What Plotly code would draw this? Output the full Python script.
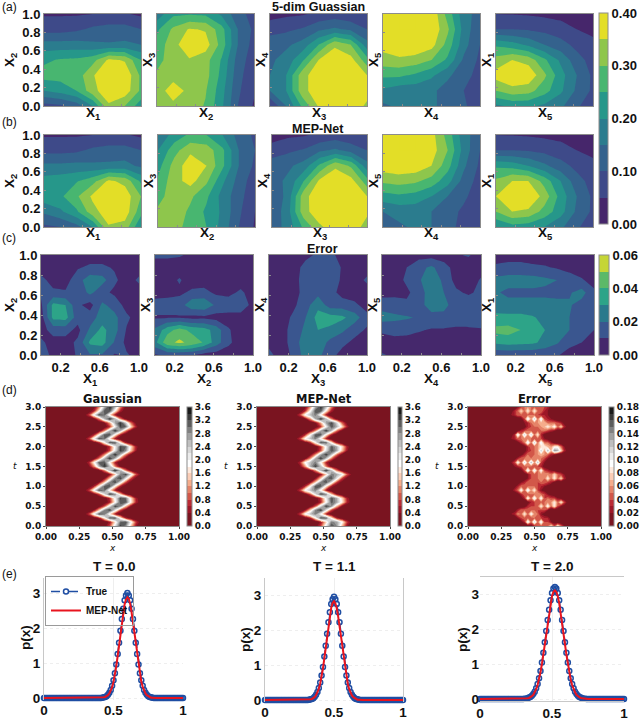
import numpy as np
import plotly.graph_objects as go

G7 = [0, 1/6, 1/3, 1/2, 2/3, 5/6, 1]
Y7 = [1, 5/6, 2/3, 1/2, 1/3, 1/6, 0]
G9 = [0, .125, .25, .375, .5, .625, .75, .875, 1]
Y9 = [1, .875, .75, .625, .5, .375, .25, .125, 0]

A1 = [[.045,.045,.045,.05,.055,.055,.04],[.08,.08,.09,.11,.12,.12,.10],[.17,.17,.17,.16,.155,.16,.15],[.24,.255,.26,.28,.36,.345,.25],[.27,.27,.27,.345,.39,.39,.29],[.20,.22,.25,.33,.39,.38,.29],[.08,.09,.12,.20,.34,.30,.22]]
A2 = [[.17,.24,.245,.24,.19,.12,.08],[.24,.31,.355,.345,.27,.15,.09],[.27,.33,.39,.375,.28,.15,.08],[.28,.33,.345,.32,.245,.13,.07],[.31,.335,.335,.32,.235,.12,.06],[.33,.37,.34,.305,.22,.11,.055],[.31,.34,.33,.295,.21,.10,.045]]
A3 = [[.03,.04,.045,.06,.07,.06,.05],[.08,.09,.105,.14,.16,.14,.10],[.13,.14,.17,.25,.34,.30,.17],[.14,.17,.24,.35,.39,.37,.27],[.15,.20,.33,.385,.40,.385,.35],[.15,.20,.33,.385,.40,.39,.37],[.05,.15,.26,.355,.39,.385,.34]]
A4 = [[.395,.40,.40,.39,.28,.17,.13],[.39,.40,.40,.39,.31,.18,.11],[.37,.39,.39,.37,.28,.17,.10],[.33,.34,.33,.30,.24,.14,.09],[.26,.26,.24,.21,.16,.12,.08],[.19,.17,.17,.16,.13,.10,.07],[.14,.16,.165,.16,.13,.105,.08]]
A5 = [[.05,.048,.045,.04,.035,.03,.025],[.10,.10,.095,.085,.07,.05,.04],[.24,.22,.19,.15,.12,.085,.06],[.32,.35,.33,.26,.19,.12,.08],[.37,.40,.39,.31,.22,.15,.09],[.30,.33,.32,.27,.21,.14,.09],[.19,.21,.21,.19,.16,.11,.06]]
B1 = [[.045,.045,.045,.05,.055,.055,.04],[.085,.085,.09,.11,.12,.12,.10],[.16,.16,.165,.16,.16,.165,.14],[.22,.23,.245,.28,.36,.335,.24],[.23,.24,.29,.36,.39,.38,.30],[.16,.19,.24,.33,.38,.38,.27],[.09,.10,.13,.20,.345,.33,.20]]
B2 = [[.16,.22,.26,.25,.20,.13,.09],[.20,.28,.34,.33,.26,.15,.10],[.23,.32,.38,.35,.26,.15,.09],[.26,.33,.37,.31,.21,.13,.07],[.28,.33,.31,.26,.18,.12,.06],[.31,.33,.29,.24,.19,.11,.05],[.31,.32,.28,.25,.18,.10,.045]]
B3 = [[.03,.04,.045,.06,.07,.06,.05],[.07,.09,.105,.14,.16,.13,.10],[.13,.14,.17,.26,.34,.29,.17],[.13,.16,.25,.36,.39,.37,.27],[.10,.17,.33,.39,.40,.385,.35],[.11,.18,.33,.385,.40,.39,.36],[.12,.17,.26,.34,.38,.38,.33]]
B4 = [[.395,.40,.40,.37,.28,.17,.12],[.39,.40,.40,.375,.30,.18,.10],[.38,.39,.385,.35,.27,.16,.09],[.31,.32,.31,.28,.22,.13,.08],[.23,.24,.23,.20,.15,.11,.07],[.15,.17,.17,.15,.12,.09,.06],[.10,.14,.16,.15,.12,.08,.05]]
B5 = [[.05,.048,.045,.04,.035,.03,.025],[.10,.10,.095,.085,.07,.05,.04],[.24,.23,.20,.16,.12,.085,.06],[.31,.35,.35,.28,.20,.12,.08],[.35,.39,.40,.33,.23,.15,.09],[.30,.35,.34,.28,.22,.14,.09],[.20,.23,.22,.20,.16,.11,.06]]

C1 = [[.005]*9,[.005,.005,.005,.009,.012,.012,.009,.005,.005],[.013,.006,.006,.016,.026,.024,.012,.005,.012],[.012,.012,.011,.012,.023,.013,.008,.005,.005],[.008,.033,.03,.012,.006,.022,.016,.006,.005],[.005,.033,.034,.014,.015,.025,.023,.012,.005],[.006,.014,.014,.007,.022,.033,.024,.009,.005],[.012,.006,.006,.012,.032,.034,.019,.007,.005],[.016,.007,.006,.011,.019,.019,.009,.011,.006]]
C2 = [[.012,.012,.011,.008,.005,.005,.005,.005,.005],[.005]*9,[.005,.006,.011,.005,.005,.005,.005,.005,.005],[.006,.007,.008,.012,.013,.008,.007,.012,.005],[.014,.014,.015,.027,.028,.018,.016,.016,.007],[.009,.009,.009,.007,.008,.006,.006,.006,.005],[.022,.036,.044,.037,.034,.026,.011,.005,.005],[.027,.047,.052,.047,.039,.025,.012,.005,.005],[.009,.012,.012,.011,.006,.005,.005,.005,.005]]
C3 = [[.005,.005,.005,.007,.012,.012,.007,.005,.005],[.005,.005,.005,.014,.016,.016,.009,.005,.005],[.005,.005,.006,.015,.018,.017,.008,.005,.012],[.005,.005,.006,.014,.017,.014,.006,.005,.005],[.005,.005,.008,.016,.027,.015,.015,.012,.006],[.005,.005,.012,.02,.034,.034,.032,.025,.013],[.005,.005,.015,.022,.03,.028,.022,.013,.009],[.007,.005,.015,.026,.027,.017,.012,.008,.005],[.013,.005,.012,.025,.023,.013,.007,.005,.005]]
C4 = [[.005,.005,.005,.006,.006,.005,.009,.011,.005],[.005,.005,.01,.017,.022,.014,.006,.005,.006],[.005,.005,.012,.019,.026,.018,.006,.005,.011],[.006,.007,.008,.015,.026,.02,.012,.008,.013],[.016,.015,.012,.017,.024,.023,.015,.018,.018],[.024,.022,.021,.019,.017,.017,.016,.017,.016],[.012,.015,.014,.011,.009,.009,.008,.008,.009],[.005]*9,[.011,.008,.005,.005,.005,.005,.005,.005,.005]]
C5 = [[.005]*9,[.012,.014,.014,.012,.011,.009,.006,.005,.005],[.023,.024,.024,.024,.022,.02,.016,.011,.006],[.021,.018,.018,.018,.018,.018,.019,.024,.012],[.024,.023,.023,.023,.023,.022,.021,.016,.012],[.033,.033,.033,.031,.027,.022,.02,.014,.011],[.043,.044,.04,.034,.03,.024,.02,.014,.01],[.032,.034,.033,.032,.027,.021,.013,.01,.006],[.012,.012,.012,.012,.012,.011,.006,.005,.005]]

D_T = [round(.1*i, 1) for i in range(31)]
D_X = [0, .24, .28, .32, .36, .40, .44, .48, .52, .56, .60, .64, .68, .72, .76, 1]
GAUSS = [
[0,0,0,.02,.18,.83,2.18,3.28,2.86,1.45,.41,.06],
[0,0,0,.01,.08,.5,1.63,3.0,3.23,2.0,.7,.14],
[0,.01,.1,.57,1.8,3.17,3.17,1.8,.57,.1,.01,0],
[.14,.7,2.0,3.23,3.0,1.63,.5,.08,.01,0,0,0],
[.01,.06,.41,1.45,2.86,3.28,2.18,.83,.18,.02,0,0],
[0,0,.02,.18,.83,2.18,3.28,2.86,1.45,.41,.06,.01],
[0,0,0,.01,.1,.57,1.8,3.17,3.17,1.8,.57,.1],
[0,0,0,.02,.14,.7,2.0,3.23,3.0,1.63,.5,.08],
[0,.02,.18,.83,2.18,3.28,2.86,1.45,.41,.06,.01,0],
[.14,.7,2.0,3.23,3.0,1.63,.5,.08,.01,0,0,0],
[.01,.1,.57,1.8,3.17,3.17,1.8,.57,.1,.01,0,0],
[0,.01,.06,.41,1.45,2.86,3.28,2.18,.83,.18,.02,0],
[0,0,.01,.06,.41,1.45,2.86,3.28,2.18,.83,.18,.02],
[0,0,0,.01,.06,.41,1.45,2.86,3.28,2.18,.83,.18],
[0,0,.03,.26,1.09,2.55,3.4,2.55,1.09,.26,.03,0],
[.03,.26,1.09,2.55,3.4,2.55,1.09,.26,.03,0,0,0],
[.1,.57,1.8,3.17,3.17,1.8,.57,.1,.01,0,0,0],
[0,.03,.26,1.09,2.55,3.4,2.55,1.09,.26,.03,0,0],
[0,0,.03,.26,1.09,2.55,3.4,2.55,1.09,.26,.03,0],
[0,0,0,.02,.18,.83,2.18,3.28,2.86,1.45,.41,.06],
[0,0,0,.02,.14,.7,2.0,3.23,3.0,1.63,.5,.08],
[0,.01,.1,.57,1.8,3.17,3.17,1.8,.57,.1,.01,0],
[.14,.7,2.0,3.23,3.0,1.63,.5,.08,.01,0,0,0],
[.01,.1,.57,1.8,3.17,3.17,1.8,.57,.1,.01,0,0],
[0,0,.03,.26,1.09,2.55,3.4,2.55,1.09,.26,.03,0],
[0,0,0,.02,.14,.7,2.0,3.23,3.0,1.63,.5,.08],
[0,0,.01,.05,.34,1.27,2.7,3.34,2.37,.96,.22,.02],
[0,.03,.26,1.09,2.55,3.4,2.55,1.09,.26,.03,0,0],
[.14,.7,2.0,3.23,3.0,1.63,.5,.08,.01,0,0,0],
[.01,.1,.57,1.8,3.17,3.17,1.8,.57,.1,.01,0,0],
[0,.03,.26,1.09,2.55,3.4,2.55,1.09,.26,.03,0,0],
]
MEP = [
[0,0,0,.02,.17,.8,2.1,3.2,2.8,1.4,.4,.05],
[0,0,0,.01,.08,.48,1.55,2.9,2.7,1.9,.7,.15],
[0,.01,.12,.6,1.85,3.2,3.1,1.75,.55,.1,.01,0],
[.14,.7,1.9,2.5,2.9,1.9,.6,.1,.01,0,0,0],
[.01,.07,.43,1.5,2.9,3.3,2.15,.8,.17,.02,0,0],
[0,0,.02,.18,.85,2.25,3.3,2.8,1.4,.4,.06,.01],
[0,0,0,.01,.1,.6,1.85,3.1,2.7,1.75,.6,.12],
[0,0,0,.02,.14,.75,2.05,3.2,2.6,1.6,.52,.09],
[0,.02,.18,.85,2.2,3.25,2.85,1.45,.41,.06,.01,0],
[.14,.7,1.9,2.5,2.9,1.8,.55,.09,.01,0,0,0],
[.01,.1,.6,1.85,3.2,3.15,1.75,.55,.1,.01,0,0],
[0,.01,.06,.42,1.5,2.9,3.25,2.15,.8,.17,.02,0],
[0,0,.01,.06,.43,1.5,2.9,3.2,2.15,.8,.18,.02],
[0,0,0,.01,.06,.43,1.5,2.9,2.7,2.1,.85,.2],
[0,0,.03,.28,1.15,2.6,3.35,2.5,1.05,.25,.03,0],
[.03,.28,1.15,2.6,3.3,2.5,1.05,.25,.03,0,0,0],
[.1,.6,1.85,2.5,2.9,1.85,.6,.1,.01,0,0,0],
[0,.03,.28,1.15,2.6,3.35,2.5,1.05,.25,.03,0,0],
[0,0,.03,.28,1.15,2.6,3.35,2.5,1.05,.25,.03,0],
[0,0,0,.02,.18,.85,2.2,3.2,2.7,1.45,.42,.07],
[0,0,0,.02,.15,.72,2.0,3.15,2.6,1.65,.52,.09],
[0,.01,.11,.6,1.85,3.2,3.1,1.75,.55,.1,.01,0],
[.14,.7,1.9,2.5,2.9,1.8,.55,.09,.01,0,0,0],
[.01,.1,.6,1.85,3.2,3.15,1.75,.55,.1,.01,0,0],
[0,0,.03,.28,1.15,2.6,3.35,2.5,1.05,.25,.03,0],
[0,0,0,.02,.15,.72,2.0,3.15,2.6,1.65,.52,.09],
[0,0,.01,.05,.35,1.3,2.7,3.25,2.3,.95,.23,.03],
[0,.03,.28,1.15,2.6,3.35,2.5,1.05,.25,.03,0,0],
[.14,.7,1.9,2.5,2.9,1.8,.55,.09,.01,0,0,0],
[.01,.1,.6,1.85,3.2,3.15,1.75,.55,.1,.01,0,0],
[0,.03,.28,1.15,2.6,3.35,2.5,1.05,.25,.03,0,0],
]
E_X = [0, .275, .30, .325, .35, .375, .40, .425, .45, .475, .50, .525, .55, .575, .60, .625, .65, .675, .70, .725, .75, .775, 1]
ERR = [
[0,0,0,0,0,0,0,.01,.03,.04,.05,.05,.05,.08,.04,.09,.05,.02,0],
[0,0,0,0,.01,.03,.11,.05,.12,.05,.11,.04,.04,.02,.01,0,0,0,0],
[0,0,0,.02,.04,.05,.05,.04,.05,.05,.04,.03,.03,.01,0,0,0,0,0],
[.01,.02,.03,.06,.05,.09,.05,.10,.06,.05,.02,.01,0,0,0,0,0,0,0],
[0,0,.01,.03,.05,.05,.05,.05,.05,.04,.04,.04,.02,0,0,0,0,0,0],
[0,0,0,0,0,.01,.03,.04,.04,.05,.09,.05,.10,.05,.09,.04,.02,.01,0],
[0,0,0,0,0,0,.01,.03,.04,.05,.05,.05,.06,.06,.09,.05,.09,.04,.01],
[0,0,0,0,.01,.03,.10,.05,.11,.05,.10,.04,.05,.04,.04,.02,.01,0,0],
[0,0,0,.01,.03,.05,.04,.05,.05,.06,.05,.04,.02,.01,0,0,0,0,0],
[0,.01,.03,.05,.10,.05,.11,.06,.09,.04,.02,.01,0,0,0,0,0,0,0],
[0,0,.01,.03,.05,.05,.05,.05,.05,.04,.03,.02,.01,0,0,0,0,0,0],
[0,0,0,0,.02,.03,.05,.05,.05,.04,.05,.05,.04,.03,.01,0,0,0,0],
[0,0,0,0,0,.01,.02,.04,.05,.05,.06,.05,.09,.05,.09,.05,.08,.03,.01],
[0,0,0,0,0,.01,.02,.04,.05,.05,.06,.06,.06,.05,.08,.05,.04,.02,0],
[0,0,0,0,.01,.04,.11,.05,.11,.05,.10,.04,.03,.02,.01,0,0,0,0],
[0,.01,.02,.03,.04,.05,.05,.05,.04,.04,.03,.01,0,0,0,0,0,0,0],
[.01,.02,.04,.10,.05,.12,.06,.13,.06,.13,.04,.02,0,0,0,0,0,0,0],
[0,0,.01,.03,.05,.05,.06,.05,.06,.06,.05,.04,.02,.01,0,0,0,0,0],
[0,0,0,0,.01,.03,.05,.05,.05,.06,.07,.06,.05,.03,.02,0,0,0,0],
[0,0,0,0,0,.01,.03,.04,.05,.06,.12,.06,.13,.07,.14,.13,.08,.03,.01],
[0,0,0,0,0,.01,.03,.05,.05,.06,.08,.09,.07,.06,.09,.09,.05,.02,0],
[0,0,0,.01,.03,.05,.11,.05,.12,.05,.11,.05,.05,.03,.01,0,0,0,0],
[.01,.02,.03,.05,.05,.06,.06,.05,.05,.05,.04,.02,.01,0,0,0,0,0,0],
[0,.01,.03,.11,.05,.12,.06,.12,.05,.09,.03,.01,0,0,0,0,0,0,0],
[0,0,0,.01,.03,.04,.05,.05,.05,.05,.05,.05,.04,.03,.02,.01,0,0,0],
[0,0,0,0,0,.01,.03,.04,.05,.05,.06,.07,.09,.07,.10,.05,.08,.03,.01],
[0,0,0,0,0,.02,.03,.05,.06,.06,.07,.07,.05,.05,.05,.04,.03,.01,0],
[0,0,0,0,.01,.04,.11,.06,.12,.05,.11,.04,.03,.02,.01,0,0,0,0],
[.01,.02,.03,.05,.05,.05,.05,.05,.05,.04,.03,.03,.02,.01,0,0,0,0,0],
[0,.01,.03,.05,.08,.05,.09,.05,.09,.05,.05,.03,.02,0,0,0,0,0,0],
[0,0,0,.02,.04,.05,.06,.05,.05,.05,.05,.04,.03,.01,0,0,0,0,0],
]

P_X = [round(i/100, 2) for i in range(101)]
T0_TRUE = [0]*42 + [.01,.02,.03,.05,.09,.15,.23,.35,.51,.71,.96,1.26,1.58,1.92,2.26,2.55,2.79,2.93,3.0,2.93,2.79,2.55,2.26,1.92,1.58,1.26,.96,.71,.51,.35,.23,.15,.09,.05,.03,.02,.01] + [0]*22
T0_MEP = [0]*42 + [.01,.02,.03,.05,.08,.13,.2,.31,.46,.66,.91,1.2,1.52,1.85,2.18,2.46,2.68,2.82,2.88,2.83,2.69,2.45,2.16,1.82,1.5,1.19,.9,.66,.47,.32,.21,.13,.08,.05,.03,.01,.01] + [0]*22
T1_TRUE = [0]*32 + [.01,.02,.03,.05,.09,.15,.23,.34,.5,.7,.94,1.24,1.55,1.89,2.22,2.51,2.74,2.88,2.95,2.88,2.74,2.51,2.22,1.89,1.55,1.24,.94,.7,.5,.34,.23,.15,.09,.05,.03,.02,.01] + [0]*32
T1_MEP = [0]*32 + [.01,.02,.03,.05,.08,.14,.21,.32,.47,.66,.9,1.19,1.49,1.82,2.14,2.42,2.64,2.77,2.82,2.76,2.62,2.39,2.11,1.78,1.46,1.16,.88,.64,.46,.31,.2,.13,.08,.05,.03,.01,.01] + [0]*32
T2_TRUE = [0]*31 + [.01,.01,.02,.04,.06,.09,.14,.21,.31,.43,.59,.8,1.04,1.32,1.62,1.94,2.26,2.55,2.82,3.03,3.16,3.2,3.16,3.03,2.82,2.55,2.26,1.94,1.62,1.32,1.04,.8,.59,.43,.31,.21,.14,.09,.06,.04,.02,.01,.01] + [0]*27
T2_MEP = [0]*31 + [.01,.01,.02,.03,.05,.08,.12,.19,.28,.4,.55,.76,1.0,1.27,1.57,1.88,2.19,2.48,2.74,2.94,3.06,3.1,3.06,2.94,2.74,2.48,2.19,1.88,1.57,1.27,1.0,.76,.55,.4,.28,.19,.12,.08,.05,.03,.02,.01,.01] + [0]*27

VIR8 = ["#46266b", "#3e4a89", "#34628d", "#2b7c8e", "#26978a", "#48b670", "#8ec64c", "#e3de27"]
VIR6 = ["#45286c", "#3a568f", "#2a798c", "#2da488", "#5cb968", "#c5d536"]
RDGY = ["#7a1420", "#b2182b", "#d6604d", "#f4a582", "#fddbc7", "#ffffff", "#e0e0e0", "#bababa", "#878787", "#4d4d4d", "#1a1a1a"]
HELV = "Liberation Sans"
DJ = "DejaVu Sans"
AXC = "#8c8c8c"
W, H = 640, 720

def steps(cols):
    n = len(cols)
    out = []
    for i, c in enumerate(cols):
        out += [[i/n, c], [(i+1)/n, c]]
    return out

fig = go.Figure()
layout = {}
count = 0
annots = []

def px_note(x, y, text, size, family=HELV, bold=True, color="#111", angle=0):
    annots.append(dict(x=x/W, y=1-y/H, xref="paper", yref="paper", text=text,
                       showarrow=False, font=dict(size=size, family=family, color=color, weight="bold" if bold else "normal"),
                       xanchor="center", yanchor="middle", textangle=angle))

def add_axes(l, r, t, b, xopts, yopts):
    global count
    count += 1
    s = "" if count == 1 else str(count)
    layout["xaxis"+s] = dict(domain=[l/W, r/W], anchor="y"+s, **xopts)
    layout["yaxis"+s] = dict(domain=[1-b/H, 1-t/H], anchor="x"+s, **yopts)
    return "x"+s, "y"+s

TV = [0, .2, .4, .6, .8, 1]
TT = ["0.0", "0.2", "0.4", "0.6", "0.8", "1.0"]
TICKF = dict(size=13, family=HELV, color="#111", weight="bold")
SUBS = [("X<sub>1</sub>", "X<sub>2</sub>"), ("X<sub>2</sub>", "X<sub>3</sub>"), ("X<sub>3</sub>", "X<sub>4</sub>"),
        ("X<sub>4</sub>", "X<sub>5</sub>"), ("X<sub>5</sub>", "X<sub>1</sub>")]

def contour_row(panels, grid, ygrid, boxes, top, bot, cols, zmax, step, cbar, xlab_y, labelled_x):
    for i, (z, box) in enumerate(zip(panels, boxes)):
        l, r = box
        if labelled_x:
            xo = dict(tickvals=TV, ticktext=["", "0.2", "", "0.6", "", "1.0"], tickfont=TICKF)
        else:
            xo = dict(tickvals=TV, showticklabels=False)
        yo = dict(tickvals=TV)
        if i == 0:
            yo.update(ticktext=TT, tickfont=TICKF)
        else:
            yo.update(showticklabels=False)
        common = dict(range=[0, 1], ticks="inside", ticklen=2, tickcolor=AXC, showgrid=False, zeroline=False,
                      showline=True, linecolor=AXC, linewidth=1, mirror=True)
        xa, ya = add_axes(l, r, top, bot, {**xo, **common}, {**yo, **common})
        fig.add_trace(go.Contour(x=grid, y=ygrid, z=z, xaxis=xa, yaxis=ya, zmin=0, zmax=zmax,
                                 contours=dict(start=0, end=zmax, size=step, coloring="fill", showlines=False),
                                 line=dict(width=0, smoothing=0), colorscale=steps(cols), showscale=(cbar is not None and i == 0),
                                 colorbar=cbar, hoverinfo="skip"))
        sx, sy = SUBS[i]
        px_note((l+r)/2, xlab_y, sx, 13.5)
        px_note(10 if i == 0 else l-9, (top+bot)/2, sy, 13.5, angle=-90)

def cbar_px(l, r, t, b, vals, texts, size, family):
    return dict(x=l/W, xanchor="left", xpad=0, y=1-t/H, yanchor="top", ypad=0, len=(b-t)/H, lenmode="fraction",
                thickness=r-l, thicknessmode="pixels", tickvals=vals, ticktext=texts,
                tickfont=dict(size=size, family=family, color="#111", weight="bold"), outlinecolor=AXC, outlinewidth=1,
                ticks="", ticklen=0)

X_A = [(44, 141), (157, 254), (270, 367), (383, 480), (496, 593)]
X_B = [(44, 141), (158, 255), (272, 367), (383, 480), (496, 593)]
X_C = [(41, 139), (155, 253), (269, 367), (382, 481), (496, 594)]

CB1 = cbar_px(599, 608, 13, 224, [0, .1, .2, .3, .4], ["0.00", "0.10", "0.20", "0.30", "0.40"], 13, HELV)
CB2 = cbar_px(599, 609, 255, 355, [0, .02, .04, .06], ["0.00", "0.02", "0.04", "0.06"], 13, HELV)

contour_row([A1, A2, A3, A4, A5], G7, Y7, X_A, 14, 106, VIR8, .4, .05, CB1, 113, False)
contour_row([B1, B2, B3, B4, B5], G7, Y7, X_B, 135, 227, VIR8, .4, .05, None, 234, False)
contour_row([C1, C2, C3, C4, C5], G9, Y9, X_C, 255, 355, VIR6, .06, .01, CB2, 379, True)

px_note(318, 7, "5-dim Guassian", 12.5)
px_note(318, 129, "MEP-Net", 12.5)
px_note(322, 249, "Error", 12.5)

# row d
DTICK = dict(size=9, family=DJ, color="#111", weight="bold")
def heat(z, x, box, cb, zmax, start, step, name):
    l, r, cl, cr = box
    xa, ya = add_axes(l, r, 407, 526,
        dict(range=[0, 1], tickvals=[0, .25, .5, .75, 1], ticktext=["0.00", "0.25", "0.50", "0.75", "1.00"],
             tickfont=DTICK, ticks="outside", ticklen=2, tickcolor="#444", showgrid=False, zeroline=False,
             showline=True, linecolor=AXC, linewidth=1, mirror=True),
        dict(range=[0, 3], tickvals=[0, .5, 1, 1.5, 2, 2.5, 3], ticktext=["0.0", "0.5", "1.0", "1.5", "2.0", "2.5", "3.0"],
             tickfont=DTICK, ticks="outside", ticklen=2, tickcolor="#444", showgrid=False, zeroline=False,
             showline=True, linecolor=AXC, linewidth=1, mirror=True))
    fig.add_trace(go.Contour(x=x, y=D_T, z=z, xaxis=xa, yaxis=ya, zmin=0, zmax=zmax,
                             contours=dict(start=start, end=zmax-step, size=step, coloring="fill", showlines=False),
                             line=dict(width=0, smoothing=0), colorscale=[[i/10, c] for i, c in enumerate(RDGY)],
                             colorbar=cb, hoverinfo="skip"))
    px_note((l+r)/2, 399, name, 11.5, family=DJ)
    px_note((l+r)/2, 548, "<i>x</i>", 9, family=DJ, bold=False)
    px_note(l-31, 466, "<i>t</i>", 9, family=DJ, bold=False)

def pad2(m):
    return np.pad(np.array(m, dtype=float), ((0, 0), (2, 2))).tolist()

v1 = [round(.4*i, 1) for i in range(10)]
v2 = [round(.02*i, 2) for i in range(10)]
heat(pad2(GAUSS), D_X, (46, 179, 187, 192), cbar_px(187, 192, 407, 526, v1, [f"{v:.1f}" for v in v1], 9, DJ), 3.6, .4, .2, "Gaussian")
heat(pad2(MEP), D_X, (257, 390, 398, 402), cbar_px(398, 402, 407, 526, v1, [f"{v:.1f}" for v in v1], 9, DJ), 3.6, .4, .2, "MEP-Net")
heat(pad2(ERR), E_X, (468, 601, 609, 614), cbar_px(609, 614, 407, 526, v2, [f"{v:.2f}" for v in v2], 9, DJ), .18, .02, .01, "Error")

# row e
BLUE = "#1f4ea3"
RED = "#e8141e"
ETICK = dict(size=13.5, family=HELV, color="#111", weight="bold")
def line_panel(tv, mv, box, y0, y3, title, legend, spines):
    l, r, t, b = box
    unit = (y0-y3)/3
    rng = [(y0-b)/unit, (y0-t)/unit]
    xa, ya = add_axes(l, r, t, b,
        dict(range=[0, 1], tickvals=[0, .5, 1], ticktext=["0", "0.5", "1"], tickfont=ETICK,
             ticks="", showgrid=True, gridcolor="#eeeeee", gridwidth=1, zeroline=False,
             showline=spines.get("x", False), linecolor="#c8c8c8", linewidth=1, mirror=spines.get("xm", False)),
        dict(range=rng, tickvals=[0, 1, 2, 3], ticktext=["0", "1", "2", "3"], tickfont=ETICK,
             ticks="", showgrid=True, gridcolor="#eeeeee", gridwidth=1, griddash="dot", zeroline=False,
             showline=spines.get("y", False), linecolor=spines.get("yc", "#c8c8c8"), linewidth=1, mirror=spines.get("ym", False)))
    fig.add_trace(go.Scatter(x=P_X, y=tv, mode="lines+markers", name="True", xaxis=xa, yaxis=ya, cliponaxis=False,
                             line=dict(color=BLUE, width=1.5, dash="dash"),
                             marker=dict(symbol="circle-open", size=5, color=BLUE, line=dict(width=1.5, color=BLUE)),
                             showlegend=legend, hoverinfo="skip"))
    fig.add_trace(go.Scatter(x=P_X, y=mv, mode="lines", name="MEP-Net", xaxis=xa, yaxis=ya, cliponaxis=False,
                             line=dict(color=RED, width=2), showlegend=legend, hoverinfo="skip"))
    px_note((l+r)/2, 566, title, 13.5)

line_panel(T0_TRUE, T0_MEP, (44, 183, 578, 700), 698, 593, "T = 0.0", True, dict(y=True))
line_panel(T1_TRUE, T1_MEP, (265, 403, 578, 702), 700, 595, "T = 1.1", False, dict(y=True, ym=True))
line_panel(T2_TRUE, T2_MEP, (480, 624, 577, 701), 699, 594, "T = 2.0", False, dict(x=True, xm=True))
px_note(25, 638, "p(x)", 13.5, angle=-90)
px_note(245, 640, "p(x)", 13.5, angle=-90)
px_note(462, 640, "p(x)", 13.5, angle=-90)

for lab, y in [("(a)", 7), ("(b)", 122), ("(c)", 238), ("(d)", 390), ("(e)", 574)]:
    px_note(9, y, lab, 12, bold=False)

fig.update_layout(**layout)
fig.update_layout(width=W, height=H, margin=dict(l=0, r=0, t=0, b=0, autoexpand=False), paper_bgcolor="white", plot_bgcolor="white",
                  annotations=annots, font=dict(family=HELV, color="#111"),
                  legend=dict(x=45/W, y=1-576/H, xanchor="left", yanchor="top", bgcolor="rgba(255,255,255,0)", bordercolor="#9a9a9a",
                              borderwidth=1, font=dict(size=10, family=HELV, color="#111", weight="bold"), itemwidth=30,
                              entrywidth=38, entrywidthmode="pixels", tracegroupgap=0))
fig.write_html("out.html", post_script="document.body.style.margin='0';", config=dict(displayModeBar=False))
